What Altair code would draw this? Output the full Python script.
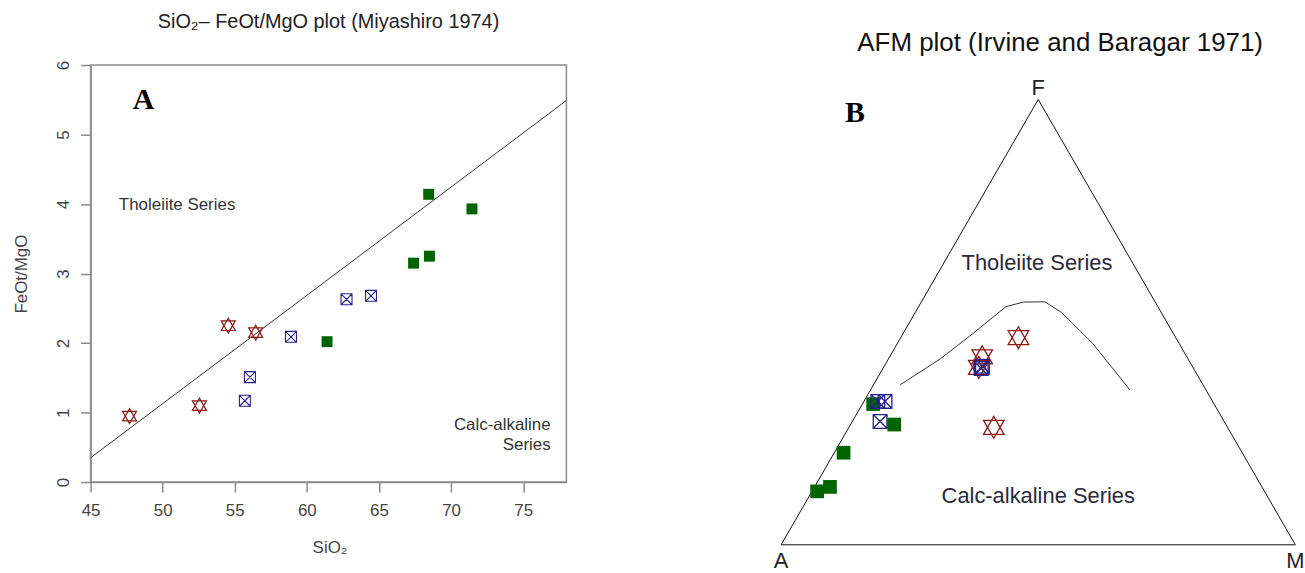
import math
import altair as alt
import pandas as pd

# ---------------- Panel A : SiO2 vs FeOt/MgO ----------------
STAR_SIO2 = [47.7, 52.55, 54.55, 56.45]
STAR_FM = [0.95, 1.10, 2.25, 2.15]
CROSS_SIO2 = [55.7, 56.05, 58.9, 62.75, 64.45]
CROSS_FM = [1.17, 1.51, 2.09, 2.63, 2.68]
SQUARE_SIO2 = [61.4, 67.4, 68.45, 68.5, 71.45]
SQUARE_FM = [2.02, 3.15, 4.14, 3.25, 3.93]
DIVIDE_SIO2 = [45, 78]
DIVIDE_FM = [0.35, 5.49]
X_TICKS = [45, 50, 55, 60, 65, 70, 75]
Y_TICKS = [0, 1, 2, 3, 4, 5, 6]

# ---------------- Panel B : AFM ternary (percent) ----------------
STAR_A = [30.6, 39.8, 41.6, 45.5]
STAR_F = [46.5, 42.2, 39.8, 26.4]
STAR_M = [22.9, 18.0, 18.5, 28.2]
CROSS_A = [65.1, 63.7, 66.9, 41.3, 40.8]
CROSS_F = [32.2, 32.2, 27.7, 39.6, 40.1]
CROSS_M = [2.7, 4.1, 5.4, 19.1, 19.1]
SQUARE_A = [87.0, 84.0, 77.6, 66.3, 64.5]
SQUARE_F = [12.0, 13.0, 20.7, 31.6, 27.0]
SQUARE_M = [1.0, 3.0, 1.8, 2.1, 8.5]
CURVE_A = [58.9, 48.1, 40.0, 29.5, 25.6, 21.4, 19.4, 16.8, 14.8]
CURVE_F = [35.9, 41.8, 46.8, 53.5, 54.5, 54.5, 52.2, 45.2, 34.8]
CURVE_M = [5.2, 10.1, 13.2, 17.0, 19.9, 24.0, 28.4, 38.0, 50.5]
VERTEX_NAMES = ["A", "M", "F", "A"]
VERTEX_A = [100, 0, 0, 100]
VERTEX_F = [0, 0, 100, 0]
VERTEX_M = [0, 100, 0, 0]

FONT = "Liberation Sans"
SERIF = "Liberation Serif"
GRAY = "#8c8c8c"
GREEN = "#006400"
BLUE = "#22228a"
RED = "#8b1a1a"
STAR_PATH = "M0,-1L0.94,0.64L-0.94,0.64Z M0,1L0.94,-0.64L-0.94,-0.64Z"
CROSS_PATH = "M-1,-1L1,-1L1,1L-1,1Z M-1,-1L1,1 M1,-1L-1,1"

ONE = pd.DataFrame({"k": [0]})


def ternary(a, f, m, names=None):
    h = math.sqrt(3) / 2
    rows = []
    for i, (ai, fi, mi) in enumerate(zip(a, f, m)):
        s = ai + fi + mi
        rows.append({"i": i, "tx": (mi + fi / 2) / s, "ty": fi * h / s,
                     "name": names[i] if names else ""})
    return pd.DataFrame(rows)


# ---------------- left chart ----------------
xsc = alt.Scale(domain=[45, 78], nice=False, zero=False)
ysc = alt.Scale(domain=[0, 6], nice=False, zero=False)
x_axis = alt.Axis(values=X_TICKS, title="SiO₂", grid=False, domainColor=GRAY,
                  domainWidth=1.5, tickColor=GRAY, tickWidth=1.5, tickSize=10,
                  labelFont=FONT, labelFontSize=17, labelColor="#444",
                  labelPadding=11, labelFlush=False, labelOverlap=False,
                  titleFont=FONT, titleFontSize=17, titleFontWeight="normal",
                  titleColor="#444", titleX=240, titleY=71,
                  titleBaseline="alphabetic", titleAlign="center")
y_axis = alt.Axis(values=Y_TICKS, title="FeOt/MgO", grid=False, domainColor=GRAY,
                  domainWidth=1.5, tickColor=GRAY, tickWidth=1.5, tickSize=10,
                  labelFont=FONT, labelFontSize=17, labelColor="#444",
                  labelAngle=270, labelAlign="center", labelBaseline="bottom",
                  labelPadding=8, labelOverlap=False,
                  titleFont=FONT, titleFontSize=17, titleFontWeight="normal",
                  titleColor="#444", titleAngle=270, titleX=-64, titleY=209.5,
                  titleBaseline="alphabetic", titleAlign="center")


def lx(f):
    return alt.X(f, type="quantitative", scale=xsc, axis=x_axis)


def ly(f):
    return alt.Y(f, type="quantitative", scale=ysc, axis=y_axis)


def ldx(v):
    return alt.XDatum(v, type="quantitative", scale=xsc, axis=x_axis)


def ldy(v):
    return alt.YDatum(v, type="quantitative", scale=ysc, axis=y_axis)


df_div = pd.DataFrame({"sio2": DIVIDE_SIO2, "fm": DIVIDE_FM})
df_star = pd.DataFrame({"sio2": STAR_SIO2, "fm": STAR_FM})
df_cross = pd.DataFrame({"sio2": CROSS_SIO2, "fm": CROSS_FM})
df_sq = pd.DataFrame({"sio2": SQUARE_SIO2, "fm": SQUARE_FM})

l_line = alt.Chart(df_div).mark_line(color="#333", strokeWidth=1).encode(
    x=lx("sio2"), y=ly("fm"))
l_sq = alt.Chart(df_sq).mark_point(shape="square", filled=True, size=121,
                                   color=GREEN, opacity=1).encode(x=lx("sio2"), y=ly("fm"))
l_star = alt.Chart(df_star).mark_point(shape=STAR_PATH, filled=False, size=225,
                                       color=RED, strokeWidth=1.2, opacity=1).encode(
    x=lx("sio2"), y=ly("fm"))
l_cross = alt.Chart(df_cross).mark_point(shape=CROSS_PATH, filled=False, size=121,
                                         color=BLUE, strokeWidth=1.1, opacity=1).encode(
    x=lx("sio2"), y=ly("fm"))
l_A = alt.Chart(ONE).mark_text(text="A", font=SERIF, fontWeight="bold", fontSize=30,
                               color="#000", align="center", baseline="alphabetic").encode(
    x=ldx(48.68), y=ldy(5.37))
l_thol = alt.Chart(ONE).mark_text(text="Tholeiite Series", font=FONT, fontSize=17,
                                  color="#333", align="left", baseline="middle").encode(
    x=ldx(46.96), y=ldy(3.98))
l_calc1 = alt.Chart(ONE).mark_text(text="Calc-alkaline", font=FONT, fontSize=17,
                                   color="#333", align="right", baseline="middle").encode(
    x=ldx(76.91), y=ldy(0.827))
l_calc2 = alt.Chart(ONE).mark_text(text="Series", font=FONT, fontSize=17,
                                   color="#333", align="right", baseline="middle").encode(
    x=ldx(76.91), y=ldy(0.53))

left = alt.layer(l_line, l_sq, l_star, l_cross, l_A, l_thol, l_calc1, l_calc2).properties(
    width=478, height=419,
    view=alt.ViewBackground(stroke=GRAY, strokeWidth=1.5),
    title=alt.TitleParams("SiO₂– FeOt/MgO plot (Miyashiro 1974)", font=FONT,
                          fontSize=20, fontWeight="normal", color="#222",
                          anchor="middle", baseline="alphabetic", offset=12.3),
)

# ---------------- right chart ----------------
rxs = alt.Scale(domain=[-0.0401, 1.0149], nice=False, zero=False)
rys = alt.Scale(domain=[-0.0523, 0.9330], nice=False, zero=False)


def rx(f="tx"):
    return alt.X(f, type="quantitative", scale=rxs, axis=None)


def ry(f="ty"):
    return alt.Y(f, type="quantitative", scale=rys, axis=None)


def rdx(v):
    return alt.XDatum(v, type="quantitative", scale=rxs, axis=None)


def rdy(v):
    return alt.YDatum(v, type="quantitative", scale=rys, axis=None)


t_tri = ternary(VERTEX_A, VERTEX_F, VERTEX_M, VERTEX_NAMES)
t_curve = ternary(CURVE_A, CURVE_F, CURVE_M)
t_star = ternary(STAR_A, STAR_F, STAR_M)
t_cross = ternary(CROSS_A, CROSS_F, CROSS_M)
t_sq = ternary(SQUARE_A, SQUARE_F, SQUARE_M)

r_tri = alt.Chart(t_tri).mark_line(color="#111", strokeWidth=1).encode(
    x=rx(), y=ry(), order="i:Q")
r_curve = alt.Chart(t_curve).mark_line(color="#333", strokeWidth=1).encode(
    x=rx(), y=ry(), order="i:Q")
r_sq = alt.Chart(t_sq).mark_point(shape="square", filled=True, size=190,
                                  color=GREEN, opacity=1).encode(x=rx(), y=ry())
r_star = alt.Chart(t_star).mark_point(shape=STAR_PATH, filled=False, size=484,
                                      color=RED, strokeWidth=1.3, opacity=1).encode(
    x=rx(), y=ry())
r_cross = alt.Chart(t_cross).mark_point(shape=CROSS_PATH, filled=False, size=190,
                                        color=BLUE, strokeWidth=1.3, opacity=1).encode(
    x=rx(), y=ry())
r_vbottom = alt.Chart(t_tri.iloc[:2]).mark_text(font=FONT, fontSize=22, color="#222",
                                               align="center", baseline="alphabetic",
                                               dy=23).encode(x=rx(), y=ry(), text="name:N")
r_vtop = alt.Chart(t_tri.iloc[2:3]).mark_text(font=FONT, fontSize=22, color="#222",
                                             align="center", baseline="alphabetic",
                                             dy=-4.5).encode(x=rx(), y=ry(), text="name:N")
r_B = alt.Chart(ONE).mark_text(text="B", font=SERIF, fontWeight="bold", fontSize=30,
                               color="#000", align="center", baseline="alphabetic").encode(
    x=rdx(0.1438), y=rdy(0.8213))
r_thol = alt.Chart(ONE).mark_text(text="Tholeiite Series", font=FONT, fontSize=22,
                                  color="#2a2a3a", align="center", baseline="middle").encode(
    x=rdx(0.4975), y=rdy(0.5472))
r_calc = alt.Chart(ONE).mark_text(text="Calc-alkaline Series", font=FONT, fontSize=22,
                                  color="#2a2a3a", align="center", baseline="middle").encode(
    x=rdx(0.5), y=rdy(0.0954))

right = alt.layer(r_tri, r_curve, r_sq, r_star, r_cross, r_vbottom, r_vtop,
                  r_B, r_thol, r_calc).properties(
    width=545, height=509,
    title=alt.TitleParams("AFM plot (Irvine and Baragar 1971)", font=FONT,
                          fontSize=26, fontWeight="normal", color="#111",
                          anchor="middle", baseline="alphabetic", offset=-11.5, dx=28.5),
)

chart = alt.hconcat(left, right, spacing=192).properties(
    padding={"left": 12, "top": 10, "right": 0, "bottom": 0},
    background="white",
).configure_view(stroke=None)

chart.save("out.html", embed_options={"renderer": "svg", "actions": False})
